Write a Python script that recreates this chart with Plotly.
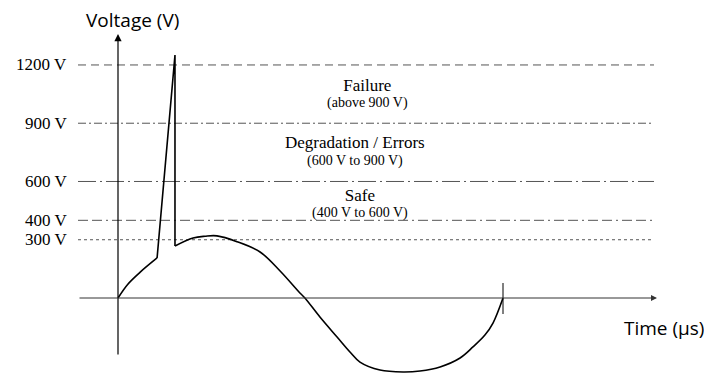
import plotly.graph_objects as go

# waveform (time in µs, voltage in V)
rise_t = [0, 0.5, 1.14, 2.03]
rise_v = [0, 70, 132, 206]
spike_t = [2.03, 2.96, 2.96]
spike_v = [206, 1251, 268]
wave_t = [2.96, 3.90, 4.52, 5.14, 6.18, 7.38, 8.42, 9.45, 9.71, 10.49, 11.38, 12.05,
          12.57, 13.61, 14.81, 15.69, 16.73, 17.77, 18.44, 19.06, 19.48, 20.0]
wave_v = [268, 309, 318, 320, 290, 237, 139, 26, 0, -98, -201, -278,
          -330, -371, -381, -376, -355, -309, -252, -191, -129, 0]

# threshold levels
levels = [1200, 900, 600, 400, 300]
level_labels = ["1200 V", "900 V", "600 V", "400 V", "300 V"]

# zones
zone_names = ["Failure", "Degradation / Errors", "Safe"]
zone_ranges = ["(above 900 V)", "(600 V to 900 V)", "(400 V to 600 V)"]

# styling
dashes = ["8px,5px", "8px,3px,2px,3px", "18px,4px,2px,4px",
          "10px,4px,10px,4px,2px,4px", "3px,3px"]
SERIF = "Liberation Serif"
SANS = "Open Sans"

# page body has an 8px margin; map screen pixels to data space
W, H, OFF = 704, 365, 8
PX_PER_T, PX_PER_V = 19.25, 0.1942
X0, Y0 = 118, 298  # screen pixel of the origin


def sx(px):
    return (px - X0) / PX_PER_T


def sy(py):
    return (Y0 - py) / PX_PER_V


X_RANGE = [sx(OFF), sx(OFF + W)]
Y_RANGE = [sy(OFF + H), sy(OFF)]
LINE_X = [sx(78), sx(654)]

# block centre (x, y) and line spacing in px for each zone label
zone_box = [(367, 93, 16), (355, 151, 17), (360, 203, 16)]

fig = go.Figure()

for lv, d in zip(levels, dashes):
    fig.add_trace(go.Scatter(x=LINE_X, y=[lv, lv], mode="lines",
                             line=dict(color="#555555", width=1, dash=d),
                             hoverinfo="skip"))

for tt, vv, shape in [(rise_t, rise_v, "spline"), (spike_t, spike_v, "linear"),
                      (wave_t, wave_v, "spline")]:
    fig.add_trace(go.Scatter(x=tt, y=vv, mode="lines",
                             line=dict(color="black", width=1.6, shape=shape),
                             hoverinfo="skip"))

# zero-crossing marker
fig.add_trace(go.Scatter(x=[wave_t[-1], wave_t[-1]], y=[sy(283), sy(314)], mode="lines",
                         line=dict(color="black", width=1), hoverinfo="skip"))

# axes with arrows
fig.add_annotation(x=0, y=sy(34), ax=0, ay=sy(356), xref="x", yref="y", axref="x", ayref="y",
                   text="", showarrow=True, arrowhead=2, arrowsize=1.2, arrowwidth=1.2,
                   arrowcolor="black", standoff=0)
fig.add_annotation(x=sx(657), y=0, ax=sx(78), ay=0, xref="x", yref="y", axref="x", ayref="y",
                   text="", showarrow=True, arrowhead=2, arrowsize=1.2, arrowwidth=1.0,
                   arrowcolor="#333333", standoff=0)

for lv, lab in zip(levels, level_labels):
    fig.add_annotation(x=sx(69), y=lv, text=lab, showarrow=False, xanchor="right",
                       font=dict(family=SERIF, size=17, color="black"))

for (bx, by, gap), name, rng in zip(zone_box, zone_names, zone_ranges):
    txt = ("<span style='font-size:17px'>%s</span><br>"
           "<span style='font-size:14px'>%s</span>" % (name, rng))
    fig.add_annotation(x=sx(bx), y=sy(by), text=txt, showarrow=False,
                       font=dict(family=SERIF, size=gap / 1.3, color="black"))

fig.add_annotation(x=sx(132), y=sy(20), text="Voltage (V)", showarrow=False,
                   font=dict(family=SANS, size=19, color="black"))
fig.add_annotation(x=sx(664), y=sy(328), text="Time (µs)", showarrow=False,
                   font=dict(family=SANS, size=19, color="black"))

fig.update_layout(
    width=W, height=H, margin=dict(l=0, r=0, t=0, b=0),
    paper_bgcolor="white", plot_bgcolor="white", showlegend=False,
    xaxis=dict(range=X_RANGE, visible=False, fixedrange=True),
    yaxis=dict(range=Y_RANGE, visible=False, fixedrange=True),
)

fig.write_html("out.html")
